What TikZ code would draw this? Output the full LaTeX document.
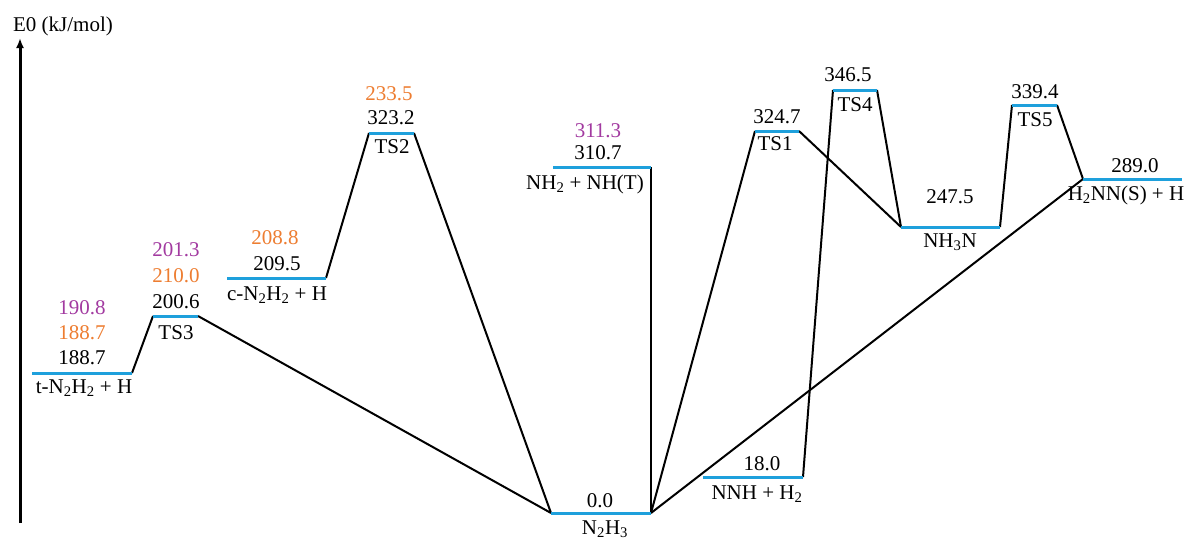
\documentclass[tikz,border=0pt]{standalone}
\usepackage{fontspec}
\setmainfont{Liberation Serif}
\usetikzlibrary{arrows.meta}
\definecolor{lvl}{RGB}{30,160,220}
\definecolor{orng}{RGB}{237,125,49}
\definecolor{purp}{RGB}{162,58,160}
\tikzset{
  level/.style={draw=lvl,line width=3pt},
  conn/.style={draw=black,line width=2pt},
  lbl/.style={inner sep=0pt,font=\fontsize{21}{25}\selectfont},
  olbl/.style={lbl,text=orng},
  plbl/.style={lbl,text=purp},
}
\begin{document}
\begin{tikzpicture}[x=1pt,y=-1pt]
\useasboundingbox (0,0) rectangle (1192,542);
% axis
\coordinate (axB) at (20,523);
\coordinate (axT) at (20,38);
\draw[line width=3pt,-{Latex[length=10pt,width=8pt]}] (axB) -- (axT);
\node[lbl] (ylab) at (63,26) {E0 (kJ/mol)};
% level end points
\coordinate (tL) at (32,373);   \coordinate (tR) at (132,373);
\coordinate (ts3L) at (153,316); \coordinate (ts3R) at (198,316);
\coordinate (cL) at (227,278);  \coordinate (cR) at (326,278);
\coordinate (ts2L) at (369,133); \coordinate (ts2R) at (414,133);
\coordinate (nhL) at (553,167); \coordinate (nhR) at (651,167);
\coordinate (n3L) at (551,513); \coordinate (n3R) at (651,513);
\coordinate (ts1L) at (755,131); \coordinate (ts1R) at (799,131);
\coordinate (nnhL) at (703,477); \coordinate (nnhR) at (803,477);
\coordinate (ts4L) at (833,90); \coordinate (ts4R) at (877,90);
\coordinate (n3nL) at (901,227); \coordinate (n3nR) at (1000,227);
\coordinate (ts5L) at (1012,105); \coordinate (ts5R) at (1057,105);
\coordinate (hL) at (1083,179); \coordinate (hR) at (1182,179);
% connectors
\draw[conn] (tR) -- (ts3L);
\draw[conn] (ts3R) -- (n3L);
\draw[conn] (cR) -- (ts2L);
\draw[conn] (ts2R) -- (n3L);
\draw[conn] (nhR) -- (n3R);
\draw[conn] (n3R) -- (ts1L);
\draw[conn] (ts1R) -- (n3nL);
\draw[conn] (n3R) -- (hL);
\draw[conn] (nnhR) -- (ts4L);
\draw[conn] (ts4R) -- (n3nL);
\draw[conn] (n3nR) -- (ts5L);
\draw[conn] (ts5R) -- (hL);
% levels
\draw[level] (tL) -- (tR);
\draw[level] (ts3L) -- (ts3R);
\draw[level] (cL) -- (cR);
\draw[level] (ts2L) -- (ts2R);
\draw[level] (nhL) -- (nhR);
\draw[level] (n3L) -- (n3R);
\draw[level] (ts1L) -- (ts1R);
\draw[level] (nnhL) -- (nnhR);
\draw[level] (ts4L) -- (ts4R);
\draw[level] (n3nL) -- (n3nR);
\draw[level] (ts5L) -- (ts5R);
\draw[level] (hL) -- (hR);
% labels: t-N2H2 + H
\node[plbl] (tP) at (82,308) {190.8};
\node[olbl] (tO) at (82,333) {188.7};
\node[lbl] (tE) at (82,358) {188.7};
\node[lbl] (tN) at (84,388) {t-N\textsubscript{2}H\textsubscript{2} + H};
% TS3
\node[plbl] (s3P) at (176,250) {201.3};
\node[olbl] (s3O) at (176,276) {210.0};
\node[lbl] (s3E) at (176,302) {200.6};
\node[lbl] (s3N) at (176,333) {TS3};
% c-N2H2 + H
\node[olbl] (cO) at (275,238) {208.8};
\node[lbl] (cE) at (277,264) {209.5};
\node[lbl] (cN) at (277,295) {c-N\textsubscript{2}H\textsubscript{2} + H};
% TS2
\node[olbl] (s2O) at (389,94) {233.5};
\node[lbl] (s2E) at (391,118) {323.2};
\node[lbl] (s2N) at (392,147) {TS2};
% NH2 + NH(T)
\node[plbl] (nhP) at (598,131) {311.3};
\node[lbl] (nhE) at (598,153) {310.7};
\node[lbl] (nhN) at (585,184) {NH\textsubscript{2} + NH(T)};
% N2H3
\node[lbl] (n3E) at (600,501) {0.0};
\node[lbl] (n3N) at (605,529) {N\textsubscript{2}H\textsubscript{3}};
% TS1
\node[lbl] (s1E) at (777,117) {324.7};
\node[lbl] (s1N) at (775,144) {TS1};
% NNH + H2
\node[lbl] (nnE) at (762,464) {18.0};
\node[lbl] (nnN) at (757,494) {NNH + H\textsubscript{2}};
% TS4
\node[lbl] (s4E) at (848,75) {346.5};
\node[lbl] (s4N) at (855,105) {TS4};
% NH3N
\node[lbl] (n3nE) at (950,197) {247.5};
\node[lbl] (n3nN) at (950,242) {NH\textsubscript{3}N};
% TS5
\node[lbl] (s5E) at (1035,92) {339.4};
\node[lbl] (s5N) at (1035,120) {TS5};
% H2NN(S) + H
\node[lbl] (hE) at (1135,166) {289.0};
\node[lbl] (hN) at (1126,195) {H\textsubscript{2}NN(S) + H};
\end{tikzpicture}
\end{document}
